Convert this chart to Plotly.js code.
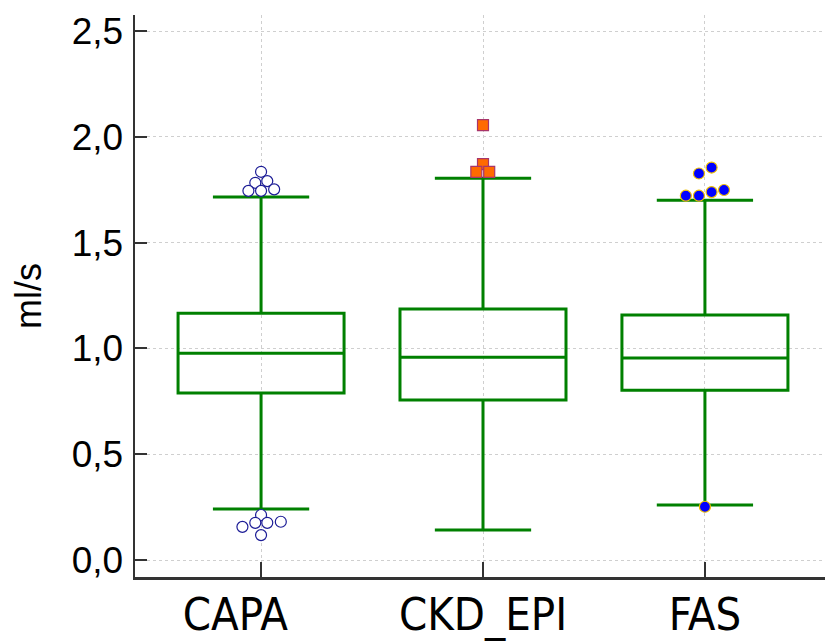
<!DOCTYPE html>
<html>
<head>
<meta charset="utf-8">
<script src="https://cdn.plot.ly/plotly-3.0.1.min.js"></script>
<style>html,body{margin:0;padding:0;background:#fff;}#chart{width:825px;height:641px;}</style>
</head>
<body>
<div id="chart"></div>
<script>
// Categories and box statistics (ml/s)
const categories = ['CAPA', 'CKD_EPI', 'FAS'];
const q1Values = [0.789, 0.756, 0.803];
const medianValues = [0.978, 0.959, 0.955];
const q3Values = [1.167, 1.186, 1.158];
const lowerFence = [0.241, 0.142, 0.260];
const upperFence = [1.716, 1.805, 1.701];

// Outliers (values) with small horizontal jitter (category units)
const capaOutliers = [1.835, 1.783, 1.791, 1.745, 1.745, 1.752, 0.213, 0.176, 0.176, 0.157, 0.181, 0.118];
const capaJitter = [0, -0.026, 0.028, -0.057, 0, 0.059, 0, -0.026, 0.028, -0.084, 0.089, 0];
const ckdOutliers = [2.056, 1.871, 1.835, 1.835];
const ckdJitter = [0, 0, -0.030, 0.028];
const fasOutliers = [1.827, 1.855, 1.722, 1.722, 1.739, 1.749, 0.252];
const fasJitter = [-0.027, 0.030, -0.086, -0.027, 0.030, 0.086, 0];

// Tick label text (CAPA label sits slightly left of its tick in the original)
const tickLabels = ['CAPA\u00a0\u00a0\u00a0\u00a0', 'CKD_EPI', 'FAS'];

const catIndex = categories.map((c, i) => i);
const green = '#008000';

const traces = [
  {
    type: 'box',
    x: catIndex,
    q1: q1Values,
    median: medianValues,
    q3: q3Values,
    lowerfence: lowerFence,
    upperfence: upperFence,
    width: 0.748,
    whiskerwidth: 0.58,
    boxpoints: false,
    fillcolor: 'rgba(255,255,255,0)',
    line: {color: green, width: 3},
    showlegend: false,
    hoverinfo: 'y'
  },
  {
    type: 'scatter', mode: 'markers',
    x: capaJitter.map(d => 0 + d),
    y: capaOutliers,
    marker: {symbol: 'circle', size: 11, color: '#ffffff', line: {color: '#1c1c96', width: 1.2}},
    showlegend: false
  },
  {
    type: 'scatter', mode: 'markers',
    x: ckdJitter.map(d => 1 + d),
    y: ckdOutliers,
    marker: {symbol: 'square', size: 11, color: '#ff6a00', line: {color: '#a8356a', width: 1.2}},
    showlegend: false
  },
  {
    type: 'scatter', mode: 'markers',
    x: fasJitter.map(d => 2 + d),
    y: fasOutliers,
    marker: {symbol: 'circle', size: 11, color: '#0000ff', line: {color: '#f2c200', width: 1.2}},
    showlegend: false
  }
];

const layout = {
  width: 825,
  height: 641,
  margin: {l: 135, r: 0, t: 15, b: 64},
  paper_bgcolor: '#ffffff',
  plot_bgcolor: '#ffffff',
  separators: ',.',
  font: {family: 'Liberation Sans, Arial, sans-serif', color: '#000'},
  xaxis: {
    range: [-0.568, 2.541],
    tickvals: catIndex,
    ticktext: tickLabels,
    ticks: 'inside',
    ticklen: 15,
    tickwidth: 2,
    tickcolor: '#333',
    showline: true,
    linecolor: '#333',
    linewidth: 2.5,
    showgrid: true,
    gridcolor: '#cfcfcf',
    griddash: 'dot',
    gridwidth: 1,
    zeroline: false,
    tickfont: {family: 'DejaVu Sans Condensed, Liberation Sans, sans-serif', size: 45, color: '#000'},
    ticklabelstandoff: -4
  },
  yaxis: {
    range: [-0.08, 2.576],
    tickvals: [0, 0.5, 1, 1.5, 2, 2.5],
    tickformat: '.1f',
    ticks: 'inside',
    ticklen: 12,
    tickwidth: 2,
    tickcolor: '#333',
    showline: true,
    linecolor: '#333',
    linewidth: 2.5,
    showgrid: true,
    gridcolor: '#cfcfcf',
    griddash: 'dot',
    gridwidth: 1,
    zeroline: false,
    ticklabelstandoff: 2,
    tickfont: {family: 'Liberation Sans, Arial, sans-serif', size: 37, color: '#000'},
    title: {text: 'ml/s', font: {family: 'Liberation Sans, Arial, sans-serif', size: 36, color: '#000'}, standoff: 19}
  }
};

Plotly.newPlot('chart', traces, layout, {displayModeBar: false, staticPlot: true});
</script>
</body>
</html>
